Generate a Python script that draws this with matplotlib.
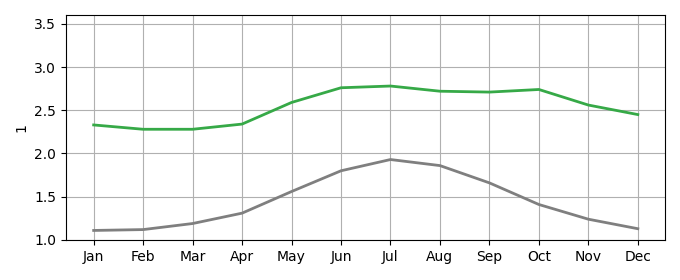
import matplotlib
matplotlib.use('Agg')
from matplotlib import pyplot as plt

months = ['Jan', 'Feb', 'Mar', 'Apr', 'May', 'Jun',
          'Jul', 'Aug', 'Sep', 'Oct', 'Nov', 'Dec']
green_vals = [2.33, 2.28, 2.28, 2.34, 2.59, 2.76, 2.78, 2.72, 2.71, 2.74, 2.56, 2.45]
gray_vals = [1.11, 1.12, 1.19, 1.31, 1.56, 1.80, 1.93, 1.86, 1.66, 1.41, 1.24, 1.13]

fig, ax = plt.subplots(figsize=(6.8, 2.8), dpi=100)
fig.subplots_adjust(left=0.097, right=0.978, top=0.946, bottom=0.143)

x = range(len(months))
ax.plot(x, green_vals, color='#36a947', linewidth=2)
ax.plot(x, gray_vals, color='#7f7f7f', linewidth=2)

ax.set_xticks(list(x))
ax.set_xticklabels(months)
ax.set_xlim(-0.56, 11.55)
ax.set_ylim(1.0, 3.6)
ax.set_yticks([1.0, 1.5, 2.0, 2.5, 3.0, 3.5])
ax.set_ylabel('1')
ax.grid(True, color='#b0b0b0')
ax.set_axisbelow(True)

fig.savefig('out.png')
